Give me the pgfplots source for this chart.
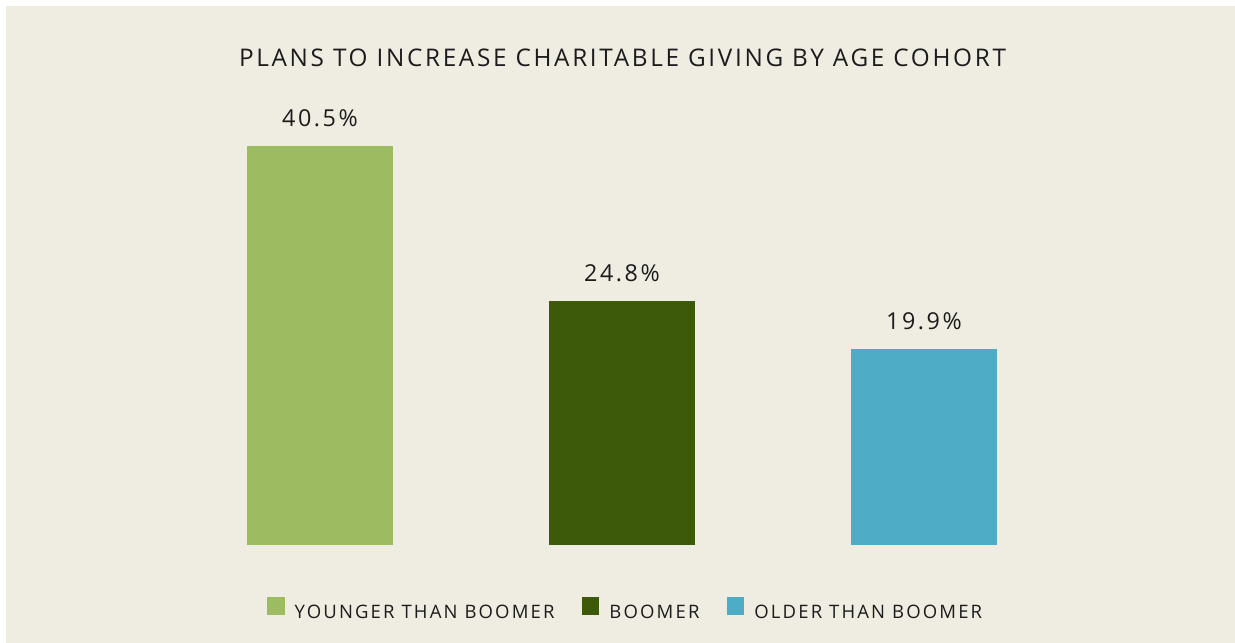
\documentclass[border=0pt]{standalone}
\usepackage{pgfplots}
\pgfplotsset{compat=1.18}
\usepackage{fontspec}
\setmainfont{Open Sans}
\newfontfamily\spacedT{Open Sans}[LetterSpace=11]
\newfontfamily\spacedN{Open Sans}[LetterSpace=11]
\newfontfamily\spacedL{Open Sans}[LetterSpace=11.5]
\definecolor{bg}{HTML}{EFECE1}
\definecolor{txt}{HTML}{1C1C1C}
\definecolor{cA}{HTML}{9DBB60}
\definecolor{cB}{HTML}{3D5A0B}
\definecolor{cC}{HTML}{4FACC6}
\pgfplotsset{sqlegend/.style={legend image code/.code={\fill[##1,draw=none] (0bp,-2.4bp) rectangle (17.4bp,15.3bp);}}}
\begin{document}
\begin{tikzpicture}
\fill[white] (0bp,0bp) rectangle (1235bp,643bp);
\fill[bg] (6bp,0bp) rectangle (1235bp,637bp);
\node[anchor=base, inner sep=0pt, font=\fontsize{24.4}{28}\selectfont\spacedT, text=txt] at (622.5bp,576bp) {PLANS TO INCREASE CHARITABLE GIVING BY AGE COHORT};
\begin{axis}[
  at={(169bp,98bp)}, anchor=south west,
  x=302bp, y=9.852bp,
  xmin=-0.5, xmax=2.5, ymin=0, ymax=45,
  hide axis, clip=false,
  /pgf/number format/assume math mode=true,
  nodes near coords={\pgfmathprintnumber[fixed,fixed zerofill,precision=1]{\pgfplotspointmeta}\%},
  every node near coord/.append style={anchor=base, yshift=19bp, inner sep=0pt, font=\fontsize{23.4}{28}\selectfont\spacedN, text=txt},
  legend columns=3,
  legend cell align=left,
  legend style={at={(0.503,-0.143)}, anchor=center, draw=none, fill=none,
    font=\fontsize{18.6}{22}\selectfont\spacedL, text=txt,
    nodes={inner sep=0pt},
    /tikz/every even column/.append style={column sep=27.5bp},
    /tikz/every odd column/.append style={column sep=10bp}},
]
\addplot[ybar, bar width=146bp, bar shift=0pt, fill=cA, draw=none, sqlegend] coordinates {(0,40.5)};
\addlegendentry{YOUNGER THAN BOOMER}
\addplot[ybar, bar width=146bp, bar shift=0pt, fill=cB, draw=none, sqlegend] coordinates {(1,24.8)};
\addlegendentry{BOOMER}
\addplot[ybar, bar width=146bp, bar shift=0pt, fill=cC, draw=none, sqlegend] coordinates {(2,19.9)};
\addlegendentry{OLDER THAN BOOMER}
\end{axis}
\end{tikzpicture}
\end{document}
